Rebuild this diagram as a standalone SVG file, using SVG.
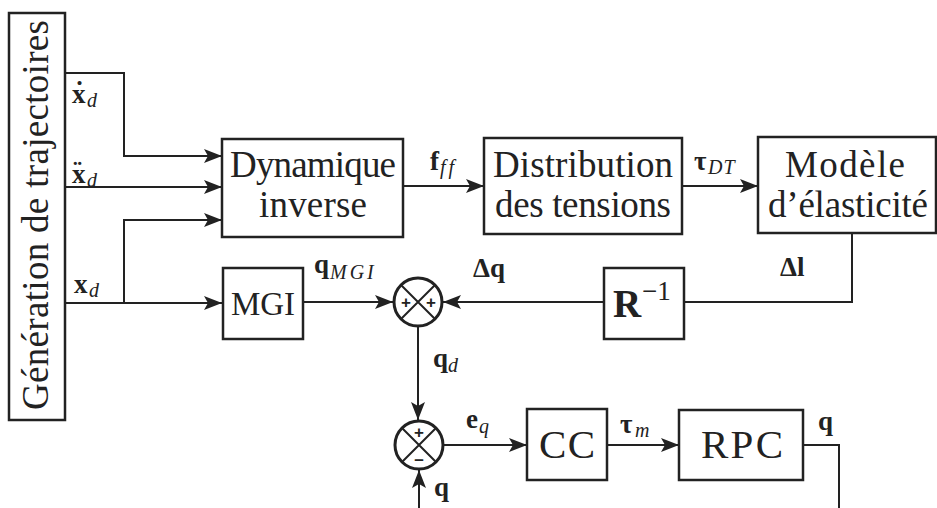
<svg xmlns="http://www.w3.org/2000/svg" width="937" height="508" viewBox="0 0 937 508">
<style>
.box{fill:#fff;stroke:#222;stroke-width:2.5}
.ln{fill:none;stroke:#222;stroke-width:2}
.lbl{font-family:"Liberation Serif","Times New Roman",serif;fill:#222}
.big{font-size:37px}
.math{font-size:27px;font-weight:bold}
.sub{font-size:20px;font-style:italic;font-weight:normal}
.sum{fill:#fff;stroke:#222;stroke-width:3}
.sgn{font-family:"Liberation Sans",Arial,sans-serif;font-size:17px;font-weight:bold;fill:#222;text-anchor:middle}
</style>
<defs>
<marker id="ar" markerUnits="userSpaceOnUse" markerWidth="20" markerHeight="14" refX="18" refY="7" orient="auto">
<path d="M0,0 L18,7 L0,14 L4,7 z" fill="#222"/>
</marker>
</defs>

<g id="connectors">
<polyline class="ln" points="65,73 124,73 124,156 222,156" marker-end="url(#ar)"/>
<polyline class="ln" points="65,187 222,187" marker-end="url(#ar)"/>
<polyline class="ln" points="124,303 124,220 222,220" marker-end="url(#ar)"/>
<polyline class="ln" points="65,303 222,303" marker-end="url(#ar)"/>
<polyline class="ln" points="403,186 484,186" marker-end="url(#ar)"/>
<polyline class="ln" points="682,186 758,186" marker-end="url(#ar)"/>
<polyline class="ln" points="852,234 852,302 684,302"/>
<polyline class="ln" points="604,302 443,302" marker-end="url(#ar)"/>
<polyline class="ln" points="303,302 393,302" marker-end="url(#ar)"/>
<polyline class="ln" points="418,327 418,420" marker-end="url(#ar)"/>
<polyline class="ln" points="419,508 419,470" marker-end="url(#ar)"/>
<polyline class="ln" points="444,445 527,445" marker-end="url(#ar)"/>
<polyline class="ln" points="607,445 679,445" marker-end="url(#ar)"/>
<polyline class="ln" points="803,445 839,445 839,508"/>
</g>

<g id="gen">
<rect class="box" x="9" y="13" width="56" height="407"/>
<text class="lbl big" transform="translate(48,410) rotate(-90)" textLength="390" lengthAdjust="spacing">Génération de trajectoires</text>
</g>

<g id="dyn">
<rect class="box" x="222" y="139" width="181" height="98"/>
<text class="lbl big" x="313" y="177" text-anchor="middle" textLength="166" lengthAdjust="spacing">Dynamique</text>
<text class="lbl big" x="313" y="217" text-anchor="middle" textLength="108" lengthAdjust="spacing">inverse</text>
</g>

<g id="dist">
<rect class="box" x="484" y="138" width="198" height="96"/>
<text class="lbl big" x="583" y="177" text-anchor="middle" textLength="180" lengthAdjust="spacing">Distribution</text>
<text class="lbl big" x="583" y="217" text-anchor="middle" textLength="176" lengthAdjust="spacing">des tensions</text>
</g>

<g id="elast">
<rect class="box" x="758" y="137" width="178" height="96"/>
<text class="lbl big" x="845" y="177" text-anchor="middle" textLength="120" lengthAdjust="spacing">Modèle</text>
<text class="lbl big" x="848" y="217" text-anchor="middle" textLength="160" lengthAdjust="spacing">d’élasticité</text>
</g>

<g id="mgi">
<rect class="box" x="223" y="268" width="80" height="71"/>
<text class="lbl" x="263" y="315" font-size="33" text-anchor="middle">MGI</text>
</g>

<g id="rinv">
<rect class="box" x="604" y="268" width="80" height="71"/>
<text class="lbl" x="613" y="317" font-size="39" font-weight="bold">R</text>
<text class="lbl" x="642" y="300" font-size="27">−1</text>
</g>

<g id="sum1">
<circle class="sum" cx="418" cy="302" r="24"/>
<path class="ln" d="M401,285 L435,319 M435,285 L401,319"/>
<text class="sgn" x="406" y="308">+</text>
<text class="sgn" x="431" y="308">+</text>
</g>

<g id="sum2">
<circle class="sum" cx="419" cy="445" r="24"/>
<path class="ln" d="M402,428 L436,462 M436,428 L402,462"/>
<text class="sgn" x="419" y="438">+</text>
<text class="sgn" x="419" y="465">–</text>
</g>

<g id="cc">
<rect class="box" x="527" y="409" width="80" height="71"/>
<text class="lbl" x="567" y="458" font-size="41" text-anchor="middle" textLength="56" lengthAdjust="spacing">CC</text>
</g>

<g id="rpc">
<rect class="box" x="679" y="410" width="124" height="70"/>
<text class="lbl" x="742" y="458" font-size="41" text-anchor="middle" textLength="82" lengthAdjust="spacing">RPC</text>
</g>

<g id="labels">
<text class="lbl math" x="72" y="103">x<tspan x="75" y="100">˙</tspan><tspan class="sub" x="87" y="107">d</tspan></text>
<text class="lbl math" x="72" y="183">x<tspan x="73" y="180">¨</tspan><tspan class="sub" x="87" y="187">d</tspan></text>
<text class="lbl math" x="74" y="293">x<tspan class="sub" x="89" y="297">d</tspan></text>
<text class="lbl math" x="430" y="170">f<tspan class="sub" x="440" y="174" letter-spacing="3">ff</tspan></text>
<text class="lbl math" x="694" y="170">τ<tspan class="sub" x="708" y="174" letter-spacing="1">DT</tspan></text>
<text class="lbl math" x="314" y="273">q<tspan class="sub" x="330" y="279" font-size="21" letter-spacing="3">MGI</tspan></text>
<text class="lbl math" x="473" y="277">Δq</text>
<text class="lbl math" x="780" y="276">Δl</text>
<text class="lbl math" x="433" y="367">q<tspan class="sub" x="448" y="372">d</tspan></text>
<text class="lbl math" x="466" y="428">e<tspan class="sub" x="479" y="433">q</tspan></text>
<text class="lbl math" x="620" y="433">τ<tspan class="sub" x="635" y="437">m</tspan></text>
<text class="lbl math" x="434" y="496">q</text>
<text class="lbl math" x="818" y="430">q</text>
</g>
</svg>
